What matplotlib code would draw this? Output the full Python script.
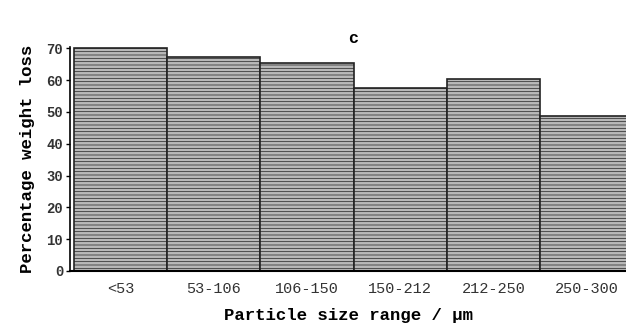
import matplotlib.pyplot as plt

size_ranges = ['<53', '53-106', '106-150', '150-212', '212-250', '250-300']
weight_loss = [70.0, 67.2, 65.5, 57.5, 60.5, 48.7]
y_ticks = [0, 10, 20, 30, 40, 50, 60, 70]

plt.rcParams['font.family'] = ['Liberation Mono', 'DejaVu Sans Mono']
plt.rcParams['hatch.color'] = '#a0a0a0'
plt.rcParams['hatch.linewidth'] = 0.5

fig = plt.figure(figsize=(6.26, 3.34), dpi=100)
ax = fig.add_axes([0.112, 0.189, 0.888, 0.671])

ax.bar(range(len(weight_loss)), weight_loss, width=1.0, color='#b8b8b8',
       edgecolor='#222222', linewidth=1.2, hatch='-----')

ax.set_xlim(-0.54, 5.42)
ax.set_ylim(0, 70.5)
ax.set_yticks(y_ticks)
ax.set_yticklabels([str(t) for t in y_ticks], fontsize=10, fontweight='bold', color='#333333')
ax.set_xticks(range(len(size_ranges)))
ax.set_xticklabels(size_ranges, fontsize=11, color='#333333')
ax.tick_params(axis='x', length=0, pad=8)
ax.tick_params(axis='y', length=3, width=1, pad=2)

for s in ['top', 'right']:
    ax.spines[s].set_visible(False)
ax.spines['left'].set_linewidth(1.2)
ax.spines['bottom'].set_linewidth(1.5)

ax.set_xlabel('Particle size range / \u00b5m', fontsize=12.5, fontweight='bold', labelpad=9)
ax.set_ylabel('Percentage weight loss', fontsize=12.5, fontweight='bold', labelpad=8)
fig.text(0.564, 0.885, 'c', fontsize=12, fontweight='bold', ha='center', va='center')

plt.savefig('out.png', dpi=100)
plt.close()
